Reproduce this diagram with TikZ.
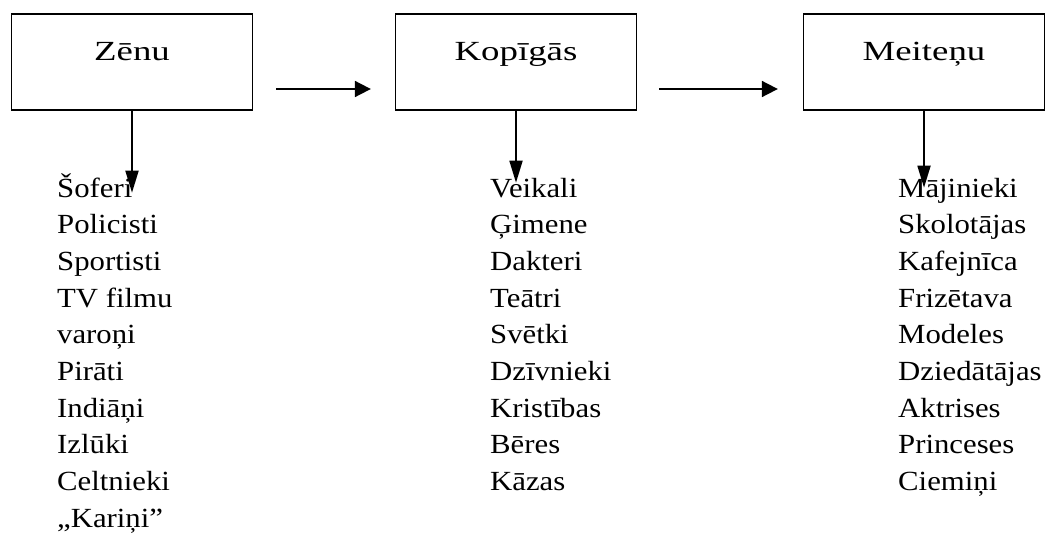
\documentclass[tikz,border=0pt]{standalone}
\usepackage{fontspec}
\setmainfont{Liberation Serif}
\newfontfamily\titlefont{Liberation Serif}[FakeStretch=1.33]
\newfontfamily\listfont{Liberation Serif}[FakeStretch=1.11]
\usetikzlibrary{arrows.meta}
\tikzset{
    box/.style={draw, line width=1.3pt, inner sep=0pt, minimum width=241pt,
        text height=47pt, text depth=49pt, anchor=base,
        font=\titlefont\fontsize{27.7}{30}\selectfont},
    item/.style={inner sep=0pt, anchor=base west,
        font=\listfont\fontsize{27.7}{36.7}\selectfont},
    harr/.style={line width=1.8pt, -{Triangle[length=16pt,width=16pt]}},
    varr/.style={line width=1.8pt, -{Triangle[length=22pt,width=13pt]}}
}

\begin{document}
\begin{tikzpicture}[x=1pt,y=1pt]
    \useasboundingbox (0,0) rectangle (1049,-535);

    \node[box] (zenu) at (132,-61) {Zēnu};
    \node[box] (kop) at (516,-61) {Kopīgās};
    \node[box] (meit) at (924,-61) {Meiteņu};

    \draw[harr] ([xshift=23pt,yshift=-27pt]zenu.east) -- ([xshift=-24pt,yshift=-27pt]kop.west);
    \draw[harr] ([xshift=22pt,yshift=-27pt]kop.east) -- ([xshift=-25pt,yshift=-27pt]meit.west);

    \foreach \w [count=\i] in {Šoferi, Policisti, Sportisti, TV filmu, varoņi, Pirāti, Indiāņi, Izlūki, Celtnieki, „Kariņi”}
        {\node[item] (z\i) at (57,{-160.3-36.7*\i}) {\w};}
    \foreach \w [count=\i] in {Veikali, Ģimene, Dakteri, Teātri, Svētki, Dzīvnieki, Kristības, Bēres, Kāzas}
        {\node[item] (k\i) at (490,{-160.3-36.7*\i}) {\w};}
    \foreach \w [count=\i] in {Mājinieki, Skolotājas, Kafejnīca, Frizētava, Modeles, Dziedātājas, Aktrises, Princeses, Ciemiņi}
        {\node[item] (m\i) at (898,{-160.3-36.7*\i}) {\w};}

    \draw[varr, shorten >=2pt] (zenu.south) -- (zenu.south |- z1.mid);
    \draw[varr, shorten >=12pt] (kop.south) -- (kop.south |- k1.mid);
    \draw[varr, shorten >=7pt] (meit.south) -- (meit.south |- m1.mid);
\end{tikzpicture}
\end{document}
